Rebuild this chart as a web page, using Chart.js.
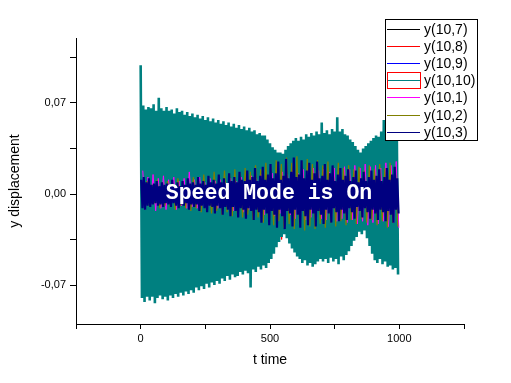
<!DOCTYPE html>
<html><head><meta charset="utf-8">
<script src="https://cdn.jsdelivr.net/npm/chart.js@4.4.1/dist/chart.umd.min.js"></script>
<style>html,body{margin:0;padding:0;background:#fff}canvas{display:block}</style>
</head><body>
<canvas id="c" width="511" height="383"></canvas>
<script>
// ---- labels & ticks ----
const seriesLabels = ['y(10,7)','y(10,8)','y(10,9)','y(10,10)','y(10,1)','y(10,2)','y(10,3)'];
const seriesColors = ['#000000','#ff0000','#0000ff','#008080','#ff00ff','#808000','#000080'];
const xTickValues = [0, 500, 1000];
const xTickLabels = ['0', '500', '1000'];
const yTickPositions = [-0.07, -0.035, 0, 0.035, 0.07, 0.105];
const yMajorValues = [-0.07, 0, 0.07];
const yTickLabels = ['-0,07', '0,00', '0,07'];
const overlayText = 'Speed Mode is On';

// ---- series extremes (peaks and troughs of the oscillation) ----
// y(10,10) teal: peaks at t=0,10,...,990 ; troughs at t=5,15,...,995
const tealPeaks = [0.099,0.068,0.065,0.067,0.066,0.069,0.064,0.074,0.066,0.064,
  0.067,0.064,0.065,0.062,0.066,0.063,0.064,0.061,0.063,0.060,
  0.062,0.059,0.061,0.058,0.060,0.057,0.059,0.056,0.058,0.055,
  0.057,0.054,0.056,0.053,0.055,0.052,0.054,0.051,0.053,0.050,
  0.052,0.049,0.051,0.048,0.049,0.046,0.047,0.045,0.045,0.042,
  0.039,0.036,0.034,0.032,0.032,0.031,0.034,0.037,0.039,0.041,
  0.043,0.041,0.044,0.042,0.046,0.044,0.047,0.045,0.048,0.046,
  0.055,0.047,0.049,0.046,0.050,0.048,0.059,0.048,0.050,0.046,
  0.045,0.042,0.040,0.037,0.034,0.032,0.035,0.037,0.039,0.041,
  0.043,0.045,0.044,0.048,0.057,0.049,0.047,0.050,0.048,0.051];
const tealTroughs = [-0.080,-0.083,-0.079,-0.082,-0.079,-0.084,-0.080,-0.078,-0.081,-0.079,
  -0.082,-0.078,-0.080,-0.077,-0.079,-0.076,-0.078,-0.075,-0.077,-0.074,
  -0.076,-0.072,-0.074,-0.071,-0.073,-0.069,-0.072,-0.068,-0.070,-0.067,
  -0.069,-0.065,-0.067,-0.063,-0.066,-0.062,-0.064,-0.063,-0.060,-0.062,
  -0.059,-0.061,-0.072,-0.058,-0.060,-0.056,-0.058,-0.055,-0.057,-0.053,
  -0.050,-0.046,-0.041,-0.037,-0.033,-0.031,-0.034,-0.038,-0.042,-0.045,
  -0.048,-0.050,-0.053,-0.051,-0.055,-0.053,-0.056,-0.054,-0.052,-0.050,
  -0.052,-0.050,-0.053,-0.049,-0.052,-0.050,-0.054,-0.048,-0.051,-0.047,
  -0.044,-0.040,-0.036,-0.033,-0.029,-0.031,-0.028,-0.034,-0.040,-0.046,
  -0.051,-0.053,-0.050,-0.054,-0.052,-0.056,-0.055,-0.058,-0.057,-0.062];
// y(10,3) navy: peaks at t=2,12,...,992 ; troughs at t=7,17,...,997
const navyPeaks = [0.011,0.013,0.009,0.012,0.007,0.008,0.010,0.006,0.009,0.007,
  0.008,0.006,0.011,0.007,0.009,0.006,0.010,0.007,0.012,0.008,
  0.009,0.007,0.013,0.008,0.010,0.007,0.014,0.009,0.011,0.008,
  0.015,0.009,0.012,0.008,0.016,0.010,0.013,0.009,0.017,0.011,
  0.010,0.018,0.011,0.013,0.020,0.010,0.014,0.021,0.011,0.015,
  0.023,0.012,0.016,0.025,0.011,0.014,0.027,0.012,0.017,0.028,
  0.013,0.015,0.026,0.012,0.018,0.024,0.011,0.016,0.025,0.012,
  0.014,0.023,0.011,0.016,0.022,0.010,0.015,0.020,0.011,0.014,
  0.019,0.010,0.013,0.018,0.009,0.012,0.017,0.010,0.013,0.018,
  0.011,0.014,0.019,0.010,0.013,0.020,0.011,0.015,0.021,0.012];
const navyTroughs = [-0.011,-0.012,-0.009,-0.010,-0.008,-0.007,-0.009,-0.008,-0.010,-0.007,
  -0.008,-0.010,-0.007,-0.009,-0.011,-0.008,-0.009,-0.007,-0.012,-0.008,
  -0.010,-0.008,-0.013,-0.009,-0.011,-0.014,-0.009,-0.010,-0.015,-0.009,
  -0.011,-0.016,-0.010,-0.012,-0.017,-0.010,-0.013,-0.018,-0.011,-0.012,
  -0.019,-0.011,-0.013,-0.020,-0.012,-0.014,-0.022,-0.012,-0.015,-0.024,
  -0.013,-0.016,-0.026,-0.012,-0.017,-0.027,-0.013,-0.015,-0.025,-0.012,
  -0.016,-0.026,-0.013,-0.017,-0.024,-0.012,-0.015,-0.025,-0.013,-0.016,
  -0.023,-0.012,-0.015,-0.022,-0.011,-0.014,-0.021,-0.012,-0.015,-0.020,
  -0.011,-0.014,-0.019,-0.010,-0.013,-0.018,-0.011,-0.014,-0.019,-0.012,
  -0.015,-0.020,-0.012,-0.014,-0.021,-0.013,-0.016,-0.022,-0.012,-0.015];
// y(10,2) olive: peaks at t=4,24,...,984 ; troughs at t=14,34,...,994
const olivePeaks = [0.008,0.010,0.007,0.011,0.009,0.010,0.008,0.012,0.009,0.011,
  0.013,0.010,0.015,0.012,0.017,0.014,0.018,0.015,0.019,0.016,
  0.020,0.017,0.022,0.019,0.024,0.021,0.026,0.023,0.028,0.024,
  0.029,0.025,0.027,0.023,0.026,0.022,0.025,0.021,0.024,0.020,
  0.022,0.019,0.021,0.018,0.022,0.019,0.023,0.020,0.024,0.021];
const oliveTroughs = [-0.008,-0.010,-0.007,-0.011,-0.009,-0.010,-0.012,-0.009,-0.011,-0.013,
  -0.011,-0.014,-0.012,-0.015,-0.013,-0.016,-0.014,-0.017,-0.015,-0.018,
  -0.016,-0.020,-0.018,-0.022,-0.019,-0.024,-0.021,-0.026,-0.023,-0.027,
  -0.024,-0.028,-0.025,-0.027,-0.023,-0.026,-0.022,-0.025,-0.021,-0.024,
  -0.020,-0.023,-0.019,-0.022,-0.020,-0.024,-0.021,-0.026,-0.022,-0.025];
// y(10,1) magenta: peaks at t=8,28,...,988 ; troughs at t=18,38,...,998
const magentaPeaks = [0.018,0.013,0.015,0.012,0.014,0.011,0.013,0.010,0.012,0.017,
  0.011,0.013,0.009,0.012,0.010,0.011,0.009,0.012,0.010,0.013,
  0.011,0.014,0.012,0.015,0.013,0.016,0.014,0.017,0.015,0.018,
  0.016,0.019,0.017,0.020,0.018,0.019,0.017,0.020,0.018,0.021,
  0.019,0.022,0.020,0.023,0.021,0.022,0.020,0.024,0.022,0.025];
const magentaTroughs = [-0.012,-0.010,-0.013,-0.011,-0.012,-0.010,-0.012,-0.009,-0.011,-0.010,
  -0.011,-0.009,-0.012,-0.010,-0.011,-0.012,-0.010,-0.013,-0.011,-0.014,
  -0.012,-0.015,-0.013,-0.016,-0.014,-0.017,-0.015,-0.018,-0.016,-0.019,
  -0.017,-0.020,-0.018,-0.021,-0.019,-0.020,-0.018,-0.021,-0.019,-0.022,
  -0.020,-0.023,-0.021,-0.024,-0.022,-0.023,-0.021,-0.025,-0.022,-0.026];
// hidden series (under the teal band): step 50
const blackPeaks = [0.028,0.031,0.026,0.029,0.025,0.027,0.024,0.026,0.022,0.025,0.019,0.021,0.018,0.022,0.024,0.021,0.019,0.017,0.020,0.022];
const blackTroughs = [-0.030,-0.027,-0.029,-0.026,-0.028,-0.024,-0.026,-0.023,-0.025,-0.021,-0.022,-0.020,-0.023,-0.025,-0.022,-0.024,-0.020,-0.018,-0.023,-0.025];
const redPeaks = [0.045,0.042,0.044,0.040,0.041,0.038,0.039,0.036,0.037,0.033,0.030,0.025,0.034,0.036,0.039,0.037,0.030,0.028,0.034,0.038];
const redTroughs = [-0.055,-0.052,-0.053,-0.050,-0.049,-0.047,-0.046,-0.044,-0.042,-0.039,-0.035,-0.027,-0.038,-0.042,-0.044,-0.041,-0.025,-0.035,-0.042,-0.045];
const bluePeaks = [0.052,0.050,0.049,0.047,0.045,0.044,0.042,0.040,0.039,0.036,0.028,0.027,0.036,0.039,0.041,0.040,0.032,0.031,0.037,0.041];
const blueTroughs = [-0.062,-0.060,-0.058,-0.056,-0.054,-0.052,-0.050,-0.048,-0.046,-0.042,-0.037,-0.028,-0.040,-0.045,-0.046,-0.043,-0.031,-0.026,-0.044,-0.048];

// sampling grids (time step and offsets of peaks / troughs)
const grids = {
  black:   {step: 50, p: 10, t: 35},
  red:     {step: 50, p: 20, t: 45},
  blue:    {step: 50, p: 30, t: 5},
  teal:    {step: 10, p: 0,  t: 5},
  magenta: {step: 20, p: 8,  t: 18},
  olive:   {step: 20, p: 4,  t: 14},
  navy:    {step: 10, p: 2,  t: 7}
};

function trace(peaks, troughs, g) {
  const pts = [];
  for (let i = 0; i < peaks.length; i++) {
    pts.push({x: i * g.step + g.p, y: peaks[i]});
    pts.push({x: i * g.step + g.t, y: troughs[i]});
  }
  return pts;
}

const seriesData = [
  trace(blackPeaks, blackTroughs, grids.black),
  trace(redPeaks, redTroughs, grids.red),
  trace(bluePeaks, blueTroughs, grids.blue),
  trace(tealPeaks, tealTroughs, grids.teal),
  trace(magentaPeaks, magentaTroughs, grids.magenta),
  trace(olivePeaks, oliveTroughs, grids.olive),
  trace(navyPeaks, navyTroughs, grids.navy)
];
const drawOrder = [6, 5, 4, 3, 2, 1, 0]; // later series drawn on top
const lineWidths = [1, 1, 1, 2.6, 1, 1.2, 2.2];

const FONT = '"Liberation Sans", Arial, sans-serif';

const overlayPlugin = {
  id: 'overlay',
  afterDatasetsDraw(chart) {
    const ctx = chart.ctx;
    ctx.save();
    ctx.font = 'bold 21.5px "Liberation Mono", "Courier New", monospace';
    ctx.fillStyle = '#ffffff';
    ctx.textAlign = 'center';
    ctx.textBaseline = 'alphabetic';
    ctx.fillText(overlayText, 269, 199);
    ctx.restore();
  },
  afterDraw(chart) {
    const ctx = chart.ctx;
    ctx.save();
    ctx.fillStyle = '#ffffff';
    ctx.fillRect(385.5, 19.5, 92, 121);
    ctx.strokeStyle = '#000';
    ctx.lineWidth = 1;
    ctx.strokeRect(385.5, 19.5, 92, 121);
    ctx.font = '14px ' + FONT;
    ctx.textBaseline = 'middle';
    ctx.textAlign = 'left';
    seriesLabels.forEach((lab, i) => {
      const y = Math.round(29 + i * 17.1) + 0.5;
      ctx.strokeStyle = seriesColors[i];
      ctx.beginPath(); ctx.moveTo(387, y); ctx.lineTo(420, y); ctx.stroke();
      ctx.fillStyle = '#000';
      ctx.fillText(lab, 424, y + 1);
    });
    const ys = Math.round(29 + 3 * 17.1) + 0.5;
    ctx.strokeStyle = '#ff0000';
    ctx.strokeRect(387.5, ys - 8, 33, 16);
    ctx.restore();
  }
};

new Chart(document.getElementById('c'), {
  type: 'line',
  data: {
    datasets: seriesLabels.map((lab, i) => ({
      label: lab,
      data: seriesData[i],
      borderColor: seriesColors[i],
      backgroundColor: seriesColors[i],
      borderWidth: lineWidths[i],
      borderJoinStyle: 'bevel',
      pointRadius: 0,
      tension: 0,
      fill: false,
      order: drawOrder[i]
    }))
  },
  options: {
    responsive: false,
    animation: false,
    events: [],
    layout: {padding: {top: 38, right: 47, left: 0, bottom: 0}},
    plugins: {legend: {display: false}, tooltip: {enabled: false}},
    scales: {
      x: {
        type: 'linear', min: -250, max: 1250,
        afterFit(s) { s.height = 59; },
        ticks: {
          stepSize: 250, autoSkip: false, maxRotation: 0, padding: 3,
          color: '#000', font: {family: FONT, size: 11},
          callback(v) { const k = xTickValues.indexOf(v); return k >= 0 ? xTickLabels[k] : ''; }
        },
        grid: {drawOnChartArea: false, drawTicks: true, tickLength: 5, color: '#000', tickColor: '#000'},
        border: {display: true, color: '#000', width: 1},
        title: {display: true, text: 't time', color: '#000', font: {family: FONT, size: 14}, padding: {top: 0, bottom: 14}}
      },
      y: {
        type: 'linear', min: -0.1, max: 0.12,
        afterFit(s) { s.width = 76; },
        afterBuildTicks(s) { s.ticks = yTickPositions.map(v => ({value: v})); },
        ticks: {
          autoSkip: false, padding: 4,
          color: '#000', font: {family: FONT, size: 11},
          callback(v) { const k = yMajorValues.findIndex(m => Math.abs(m - v) < 1e-9); return k >= 0 ? yTickLabels[k] : ''; }
        },
        grid: {drawOnChartArea: false, drawTicks: true, tickLength: 6, color: '#000', tickColor: '#000'},
        border: {display: true, color: '#000', width: 1},
        title: {display: true, text: 'y displacement', color: '#000', font: {family: FONT, size: 14}, padding: {top: 7, bottom: 0}}
      }
    }
  },
  plugins: [overlayPlugin]
});
</script>
</body></html>
